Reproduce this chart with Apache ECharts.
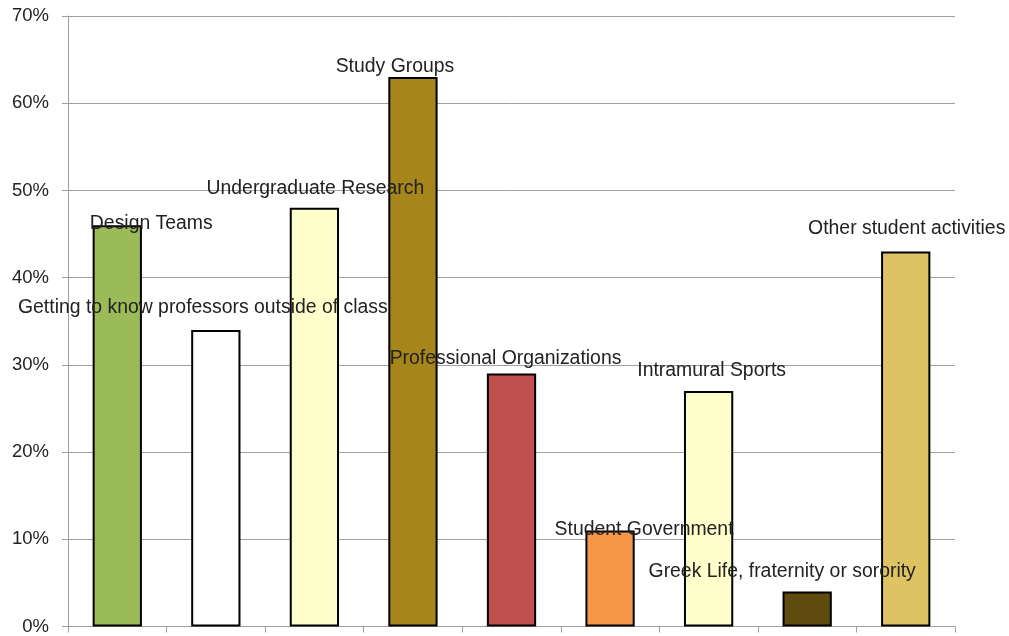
<!DOCTYPE html>
<html>
<head>
<meta charset="utf-8">
<script src="https://cdn.jsdelivr.net/npm/echarts@6/dist/echarts.min.js"></script>
<style>
html,body{margin:0;padding:0;background:#fff;}
#chart{width:1009px;height:636px;}
</style>
</head>
<body>
<div id="chart"></div>
<script>
const categories = [
  "Design Teams",
  "Getting to know professors outside of class",
  "Undergraduate Research",
  "Study Groups",
  "Professional Organizations",
  "Student Government",
  "Intramural Sports",
  "Greek Life, fraternity or sorority",
  "Other student activities"
];
const values = [46, 34, 48, 63, 29, 11, 27, 4, 43];
const barColors = ["#9BBB59", "#FFFFFF", "#FFFFCC", "#A6851A", "#C0504D", "#F79646", "#FFFFCC", "#5F4B0D", "#DEC363"];
const labelOffsets = [[34, 7.5], [-13, -12.5], [1, -10], [-18, -1], [-6, -5.5], [34, 8.5], [3, -10.5], [-25, -10.5], [1, -13.5]];
const yTicks = [0, 10, 20, 30, 40, 50, 60, 70];

const chart = echarts.init(document.getElementById('chart'), null, {renderer: 'canvas'});
const dataItems = values.map((v, i) => ({
  value: v,
  itemStyle: {color: barColors[i]}
}));
chart.setOption({
  animation: false,
  backgroundColor: '#ffffff',
  grid: {left: 68, right: 54, top: 16, bottom: 7, containLabel: false},
  xAxis: {
    type: 'category',
    data: categories,
    boundaryGap: true,
    axisLine: {show: true, lineStyle: {color: '#A0A0A0', width: 1}},
    axisTick: {show: true, interval: 0, alignWithLabel: false, length: 6, lineStyle: {color: '#A0A0A0'}},
    axisLabel: {show: false, interval: 0},
    splitLine: {show: false}
  },
  yAxis: {
    type: 'value',
    min: yTicks[0],
    max: yTicks[yTicks.length - 1],
    interval: 10,
    axisLine: {show: true, lineStyle: {color: '#A0A0A0', width: 1}},
    axisTick: {show: true, inside: false, length: 6, lineStyle: {color: '#A0A0A0'}},
    axisLabel: {
      formatter: v => v + '%',
      margin: 19,
      color: '#222',
      fontFamily: 'Liberation Sans, Arial, sans-serif',
      fontSize: 18.5
    },
    splitLine: {show: true, lineStyle: {color: '#A0A0A0', width: 1}}
  },
  series: [{
    type: 'bar',
    data: dataItems,
    barWidth: '50%',
    itemStyle: {borderColor: '#000', borderWidth: 2},
    label: {
      show: true,
      position: 'top',
      distance: 0,
      formatter: p => p.name,
      color: '#222',
      fontFamily: 'Liberation Sans, Arial, sans-serif',
      fontSize: 19.4
    },
    labelLayout: function (params) {
      const o = labelOffsets[params.dataIndex];
      return {dx: o[0], dy: o[1], hideOverlap: false, moveOverlap: null};
    }
  }]
});
</script>
</body>
</html>
